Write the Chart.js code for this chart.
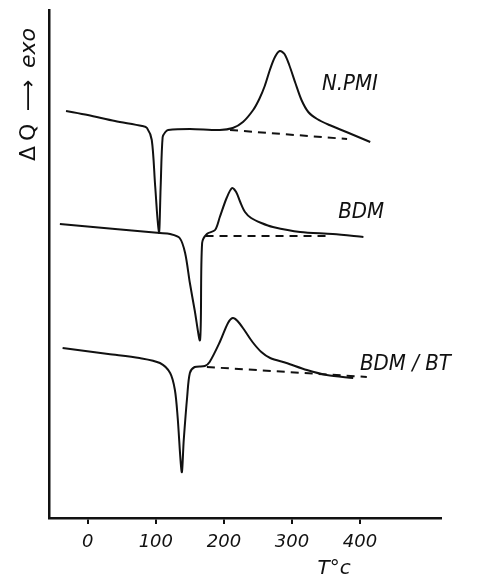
<!DOCTYPE html>
<html>
<head>
<meta charset="utf-8">
<script src="https://cdn.jsdelivr.net/npm/chart.js@4"></script>
<style>
body { margin: 0; background: #fff; }
</style>
</head>
<body>
<canvas id="dscChart" width="477" height="577"></canvas>
<script>
// temperatures (°C) and heat flow (arbitrary units, exo up)
var npmiT = [-32, 0, 40, 80, 87, 94, 99, 104.5, 107, 110, 114, 118, 150, 194, 213, 228, 243, 252, 260, 268, 275, 282, 289, 296, 305, 314, 324, 337, 355, 380, 415];
var npmiQ = [407, 403, 397, 392, 390, 378, 332, 285, 330, 381, 386, 388, 389, 388, 390, 396, 408, 419, 432, 449, 461, 467, 464, 453, 435, 418, 406, 399, 393, 386, 376];
var npmiBaseT = [209, 381];
var npmiBaseQ = [388, 379];

var bdmT = [-41, 40, 106, 121, 135, 143, 150, 157, 165, 168, 175, 187, 194, 204, 212, 218, 224, 231, 240, 255, 272, 312, 360, 405];
var bdmQ = [294, 289, 285, 284, 280, 265, 235, 208, 178, 275, 284, 288, 301, 320, 330, 326, 316, 306, 300, 295, 291, 286, 284, 281];
var bdmBaseT = [173, 351];
var bdmBaseQ = [282, 282];

var bdmbtT = [-37, 30, 76, 106, 121, 128, 132, 138, 141, 146, 150, 157, 172, 179, 194, 206, 213, 220, 230, 242, 255, 268, 292, 322, 351, 390];
var bdmbtQ = [170, 164, 160, 155, 145, 128, 101, 46, 78, 121, 145, 151, 152, 156, 176, 195, 200, 197, 188, 176, 166, 160, 155, 148, 143, 140];
var bdmbtBaseT = [175, 410];
var bdmbtBaseQ = [151, 141];

var xTicks = [0, 100, 200, 300, 400];
var curveNames = ['N.PMI', 'BDM', 'BDM / BT'];
var nameT = [344, 368, 400];
var nameQ = [428, 300, 148];

function pts(xs, ys) {
    return xs.map(function (x, i) { return { x: x, y: ys[i] }; });
}

function curve(xs, ys) {
    return {
        data: pts(xs, ys),
        showLine: true,
        borderColor: '#111',
        borderWidth: 2,
        pointRadius: 0,
        tension: 0.3
    };
}

function dashed(xs, ys) {
    return {
        data: pts(xs, ys),
        showLine: true,
        borderColor: '#111',
        borderWidth: 2,
        borderDash: [8, 6],
        pointRadius: 0
    };
}

var labelsPlugin = {
    id: 'labelsPlugin',
    afterDraw: function (chart) {
        var ctx = chart.ctx;
        var xs = chart.scales.x, ys = chart.scales.y;
        var area = chart.chartArea;
        ctx.save();
        ctx.fillStyle = '#111';
        ctx.textBaseline = 'alphabetic';
        ctx.textAlign = 'left';
        ctx.font = 'italic 22px "DejaVu Sans Condensed", "DejaVu Sans", sans-serif';
        for (var i = 0; i < curveNames.length; i++) {
            ctx.fillText(curveNames[i], xs.getPixelForValue(nameT[i]), ys.getPixelForValue(nameQ[i]));
        }
        // x axis title
        ctx.textAlign = 'center';
        ctx.font = 'italic 20px "DejaVu Sans", sans-serif';
        ctx.fillText('T°c', xs.getPixelForValue(362), area.bottom + 56);
        // y axis title, bottom to top
        ctx.translate(area.left - 14, area.top);
        ctx.rotate(-Math.PI / 2);
        ctx.textAlign = 'left';
        ctx.font = '22px "DejaVu Sans", sans-serif';
        ctx.fillText('Δ', -151, 0);
        ctx.fillText('Q', -131, 0);
        ctx.fillText('⟶', -101, 0);
        ctx.font = 'italic 22px "DejaVu Sans", sans-serif';
        ctx.fillText('exo', -58, 0);
        ctx.restore();
    }
};

new Chart(document.getElementById('dscChart'), {
    type: 'scatter',
    data: {
        datasets: [
            curve(npmiT, npmiQ), dashed(npmiBaseT, npmiBaseQ),
            curve(bdmT, bdmQ), dashed(bdmBaseT, bdmBaseQ),
            curve(bdmbtT, bdmbtQ), dashed(bdmbtBaseT, bdmbtBaseQ)
        ]
    },
    options: {
        responsive: false,
        animation: false,
        devicePixelRatio: 1,
        layout: { padding: { left: 49, right: 36, top: 10, bottom: 0 } },
        plugins: { legend: { display: false }, tooltip: { enabled: false } },
        scales: {
            x: {
                type: 'linear',
                min: -57,
                max: 519,
                afterBuildTicks: function (scale) {
                    scale.ticks = xTicks.map(function (v) { return { value: v }; });
                },
                afterFit: function (scale) { scale.height = 59; },
                grid: { display: true, drawOnChartArea: false, drawTicks: true, tickLength: 6, color: '#111', lineWidth: 2 },
                border: { display: true, color: '#111', width: 2.5 },
                ticks: {
                    color: '#111',
                    padding: 8,
                    maxRotation: 0,
                    font: { family: '"DejaVu Sans", sans-serif', size: 18, style: 'italic' }
                }
            },
            y: {
                type: 'linear',
                min: 0,
                max: 508,
                afterFit: function (scale) { scale.width = 0; },
                grid: { display: false },
                border: { display: true, color: '#111', width: 2.5 },
                ticks: { display: false }
            }
        }
    },
    plugins: [labelsPlugin]
});
</script>
</body>
</html>
